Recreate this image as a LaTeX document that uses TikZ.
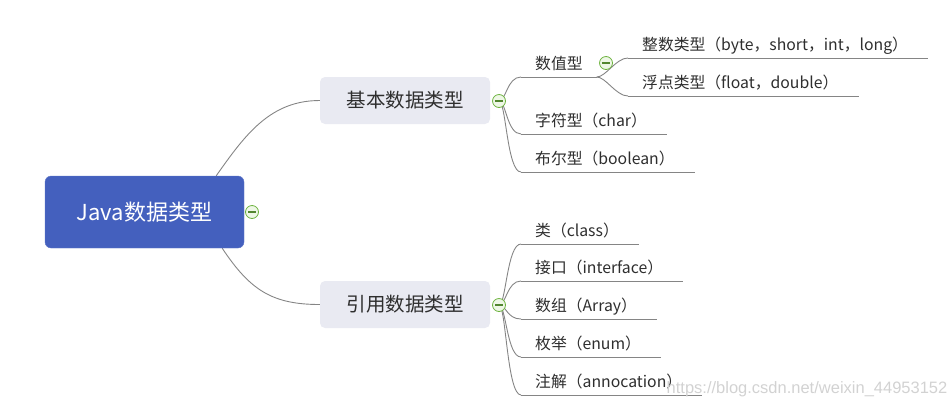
\documentclass[tikz,border=0pt]{standalone}
\usepackage{fontspec}
\setmainfont{Noto Sans CJK SC}
\newfontfamily\wmfont{Liberation Sans}
\usetikzlibrary{backgrounds}
\definecolor{rootblue}{HTML}{4460BE}
\definecolor{mainfill}{HTML}{E9EAF2}
\definecolor{txtgray}{HTML}{2E2E2E}
\definecolor{linegray}{HTML}{858585}
\definecolor{tgreen}{HTML}{6DB33F}
\definecolor{tfill}{HTML}{EEF7E6}
\begin{document}
\begin{tikzpicture}[x=1pt,y=-1pt,
  rootbox/.style={rectangle, rounded corners=6pt, fill=rootblue, draw=rootblue!85!white,
    minimum width=199pt, minimum height=72pt, text=white, font=\fontsize{22}{26}\selectfont},
  mainbox/.style={rectangle, rounded corners=5pt, fill=mainfill,
    minimum width=170pt, minimum height=47pt, text=txtgray, font=\fontsize{19.5}{23}\selectfont},
  leaf/.style={anchor=south west, inner xsep=0pt, inner ysep=7pt, text depth=0pt,
    text=txtgray, font=\fontsize{15.8}{18}\selectfont},
  conn/.style={draw=linegray, line width=0.9pt},
  uline/.style={draw=linegray, line width=0.9pt},
  toggle/.style={circle, minimum size=13pt, inner sep=0pt, draw=tgreen, line width=0.8pt, fill=tfill,
    path picture={\draw[tgreen!75!black, line width=1.3pt]
      ([xshift=-3.6pt]path picture bounding box.center) -- ([xshift=3.6pt]path picture bounding box.center);}}
]
\useasboundingbox (0,0) rectangle (952,408);

% main nodes
\node[rootbox] (root) at (144.5,212) {Java数据类型};
\node[mainbox] (basic) at (405,100.5) {基本数据类型};
\node[mainbox] (ref) at (405,304.5) {引用数据类型};

% toggles
\node[toggle] (troot) at (252,212) {};
\node[toggle] (tbasic) at (499,101) {};
\node[toggle] (tref) at (499,305) {};

% basic leaves
\node[leaf] (num) at (535,77) {数值型};
\node[toggle] (tnum) at (606,63) {};
\node[leaf] (int) at (642,58) {整数类型（byte，short，int，long）};
\node[leaf] (flt) at (642,96) {浮点类型（float，double）};
\node[leaf] (chr) at (535,134) {字符型（char）};
\node[leaf] (bool) at (535,172) {布尔型（boolean）};

% reference leaves
\node[leaf] (cls) at (535,244) {类（class）};
\node[leaf] (itf) at (535,281) {接口（interface）};
\node[leaf] (arr) at (535,319) {数组（Array）};
\node[leaf] (enm) at (535,357) {枚举（enum）};
\node[leaf] (ann) at (535,395) {注解（annocation）};

% underlines
\draw[uline] ([xshift=-14pt]num.south west) -- ([xshift=14pt]num.south east);
\foreach \n in {int,flt,chr,bool,cls,itf,arr,enm,ann}
  \draw[uline] ([xshift=-14pt]\n.south west) -- ([xshift=20pt]\n.south east);

\begin{pgfonlayer}{background}
\draw[conn] ([xshift=-28pt]root.north east) .. controls (245,135) and (270,100.5) .. (basic.west);
\draw[conn] ([xshift=-22pt]root.south east) .. controls (250,290) and (272,304.5) .. (ref.west);
\foreach \n in {num,chr,bool}
  \draw[conn] (tbasic.center) .. controls +(7,0) and +(-14,0) .. ([xshift=-14pt]\n.south west);
\foreach \n in {cls,itf,arr,enm,ann}
  \draw[conn] (tref.center) .. controls +(7,0) and +(-14,0) .. ([xshift=-14pt]\n.south west);
\foreach \n in {int,flt}
  \draw[conn] ([xshift=14pt]num.south east) .. controls +(9,0) and +(-12,0) .. ([xshift=-14pt]\n.south west);
\end{pgfonlayer}

% watermark
\node[text=gray!35, font=\wmfont\fontsize{16.5}{19}\selectfont] (wm) at (807,389) {https://blog.csdn.net/weixin\_44953152};
\end{tikzpicture}
\end{document}
